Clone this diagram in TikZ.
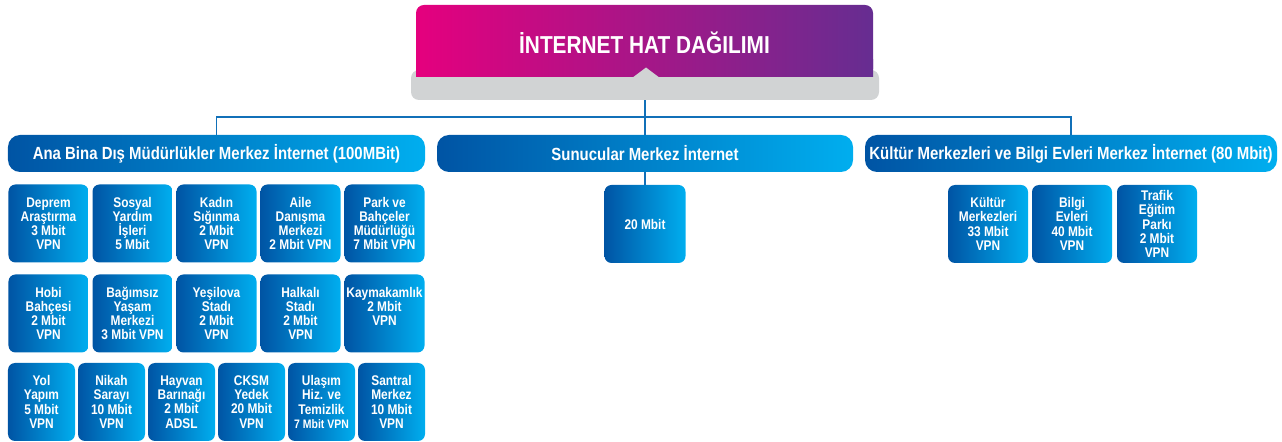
\documentclass[tikz,border=0pt]{standalone}
\usepackage{fontspec}
\setmainfont{Liberation Sans}[FakeStretch=0.85]
\definecolor{dblue}{HTML}{0054A4}
\definecolor{lblue}{HTML}{00AEEF}
\definecolor{mag}{HTML}{E5007E}
\definecolor{purp}{HTML}{662D91}
\definecolor{gry}{HTML}{D1D3D4}
\definecolor{linec}{HTML}{1170B8}
\tikzset{
  lvltwo/.style={rounded corners=12bp, left color=dblue, right color=lblue, minimum height=37bp,
    text=white, font=\fontsize{17.6bp}{20bp}\selectfont\bfseries, inner sep=0pt},
  kid/.style={rounded corners=7bp, left color=dblue, right color=lblue, minimum height=78bp,
    minimum width=80bp, text=white, align=center, font=\fontsize{14bp}{14.2bp}\selectfont\bfseries, inner sep=0pt},
  kidn/.style={kid, minimum width=67bp},
  conn/.style={draw=linec, line width=1.8bp},
}
\begin{document}
\begin{tikzpicture}[x=1bp,y=-1bp]
\useasboundingbox (0,0) rectangle (1282,442);
% header
\node[rounded corners=8bp, fill=gry, minimum width=468bp, minimum height=30bp, inner sep=0pt] (gray) at (645,85) {};
\node[rounded corners=8bp, left color=mag, right color=purp, minimum width=457bp, minimum height=72bp,
  inner sep=0pt] (title) at (644.5,41) {};
\shade[left color=mag, right color=purp] (416,60) rectangle (873,77);
\node[text=white, font=\fontsize{24.5bp}{28bp}\selectfont\bfseries, inner sep=0pt] (titletext) at (644.5,43) {İNTERNET HAT DAĞILIMI};
\fill[gry] (633,77.3) -- (646,67.5) -- (659,77.3) -- cycle;
% level two
\node[lvltwo, minimum width=417bp] (l2a) at (216.5,153.5) {Ana Bina Dış Müdürlükler Merkez İnternet (100MBit)};
\node[lvltwo, minimum width=416bp] (l2b) at (645,153.5) {Sunucular Merkez İnternet};
\node[lvltwo, minimum width=412bp] (l2c) at (1071,153.5) {Kültür Merkezleri ve Bilgi Evleri Merkez İnternet (80 Mbit)};
% connectors
\coordinate (bus) at (645,117);
\draw[conn] (gray.south) -- (l2b.north);
\draw[conn] (l2a.north) |- (bus) -| (l2c.north);
% row 1
\node[kid] (a1) at (48.5,223.5) {Deprem\\Araştırma\\3 Mbit\\VPN};
\node[kid] (a2) at (132.5,223.5) {Sosyal\\Yardım\\İşleri\\5 Mbit};
\node[kid] (a3) at (216.5,223.5) {Kadın\\Sığınma\\2 Mbit\\VPN};
\node[kid] (a4) at (300.5,223.5) {Aile\\Danışma\\Merkezi\\2 Mbit VPN};
\node[kid] (a5) at (384.5,223.5) {Park ve\\Bahçeler\\Müdürlüğü\\7 Mbit VPN};
% row 2
\node[kid] (b1) at (48.5,313.5) {Hobi\\Bahçesi\\2 Mbit\\VPN};
\node[kid] (b2) at (132.5,313.5) {Bağımsız\\Yaşam\\Merkezi\\3 Mbit VPN};
\node[kid] (b3) at (216.5,313.5) {Yeşilova\\Stadı\\2 Mbit\\VPN};
\node[kid] (b4) at (300.5,313.5) {Halkalı\\Stadı\\2 Mbit\\VPN};
\node[kid] (b5) at (384.5,313.5) {Kaymakamlık\\2 Mbit\\VPN\\\phantom{V}};
% row 3
\node[kidn] (c1) at (41.5,402) {Yol\\Yapım\\5 Mbit\\VPN};
\node[kidn] (c2) at (111.5,402) {Nikah\\Sarayı\\10 Mbit\\VPN};
\node[kidn] (c3) at (181.5,402) {Hayvan\\Barınağı\\2 Mbit\\ADSL};
\node[kidn] (c4) at (251.5,402) {CKSM\\Yedek\\20 Mbit\\VPN};
\node[kidn] (c5) at (321.5,402) {Ulaşım\\Hiz. ve\\Temizlik\\{\fontsize{12.3bp}{14bp}\selectfont 7 Mbit VPN}};
\node[kidn] (c6) at (391.5,402) {Santral\\Merkez\\10 Mbit\\VPN};
% servers
\node[kid, minimum width=81bp] (s1) at (645,224) {20 Mbit};
\draw[conn] (l2b.south) -- (s1.north);
% culture
\node[kid] (k1) at (988,224) {Kültür\\Merkezleri\\33 Mbit\\VPN};
\node[kid] (k2) at (1072,224) {Bilgi\\Evleri\\40 Mbit\\VPN};
\node[kid] (k3) at (1157,224) {Trafik\\Eğitim\\Parkı\\2 Mbit\\VPN};
\end{tikzpicture}
\end{document}
